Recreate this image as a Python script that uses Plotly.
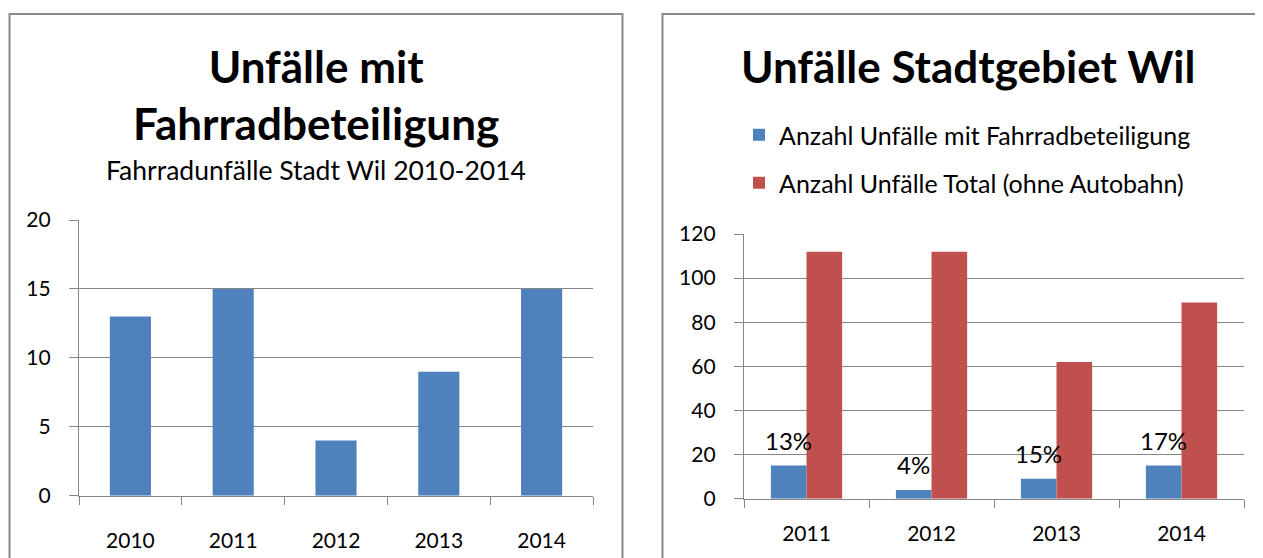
import plotly.graph_objects as go

# ---- data ----
years_left = ["2010", "2011", "2012", "2013", "2014"]
bike_left = [13, 15, 4, 9, 15]

years_right = ["2011", "2012", "2013", "2014"]
bike_right = [15, 4, 9, 15]
total_right = [112, 112, 62, 89]
share_labels = ["13%", "4%", "15%", "17%"]

left_ticks = [0, 5, 10, 15, 20]
right_ticks = [0, 20, 40, 60, 80, 100, 120]

series_names = ["Anzahl Unfälle mit Fahrradbeteiligung", "Anzahl Unfälle Total (ohne Autobahn)"]

# ---- style ----
W, H = 1263, 558
OX, OY = 8, 8  # default page margin around the plot div
BLUE = "#4F81BD"
RED = "#C0504D"
GRID = "#868686"
BORDER = "#8A8A8A"
FONT = "Lato"
BARGAP = 0.43


def px(x):
    return (x - OX) / W


def py(y):
    return 1 - (y - OY) / H


fig = go.Figure()

fig.add_trace(go.Bar(
    x=years_left, y=bike_left, marker=dict(color=BLUE, line=dict(width=0)),
    width=0.4, xaxis="x", yaxis="y", showlegend=False, name="Fahrradunfälle",
))
fig.add_trace(go.Bar(
    x=years_right, y=bike_right, marker=dict(color=BLUE, line=dict(width=0)),
    xaxis="x2", yaxis="y2", name=series_names[0], legendgroup="a",
))
fig.add_trace(go.Bar(
    x=years_right, y=total_right, marker=dict(color=RED, line=dict(width=0)),
    xaxis="x2", yaxis="y2", name=series_names[1], legendgroup="b",
))

axis_font = dict(family=FONT, size=21, color="#000000")

common_x = dict(
    showline=True, linecolor=GRID, linewidth=1.3, ticks="outside", ticklen=8,
    tickcolor=GRID, tickwidth=1.3, tickson="boundaries", showgrid=False,
    tickfont=axis_font, fixedrange=True, type="category", automargin=False,
    tickangle=0,
)
common_y = dict(
    showline=True, linecolor=GRID, linewidth=1.3, ticks="outside", ticklen=9,
    tickcolor=GRID, tickwidth=1.3, showgrid=True, gridcolor=GRID, gridwidth=1.3,
    zeroline=False, tickfont=axis_font, fixedrange=True, ticklabelstandoff=14,
    automargin=False,
)

annotations = [
    dict(text="<b>Unfälle mit<br>Fahrradbeteiligung</b>", x=px(316), y=py(94),
         xref="paper", yref="paper", xanchor="center", yanchor="middle",
         showarrow=False, font=dict(family=FONT, size=44, color="#000000")),
    dict(text="Fahrradunfälle Stadt Wil 2010-2014", x=px(316), y=py(170),
         xref="paper", yref="paper", xanchor="center", yanchor="middle",
         showarrow=False, font=dict(family=FONT, size=26.5, color="#000000")),
    dict(text="<b>Unfälle Stadtgebiet Wil</b>", x=px(968), y=py(66),
         xref="paper", yref="paper", xanchor="center", yanchor="middle",
         showarrow=False, font=dict(family=FONT, size=44, color="#000000")),
]
# percentage labels sit above the blue (first) bar of each group
blue_offset = -(1 - BARGAP) / 4
for i, (val, lab) in enumerate(zip(bike_right, share_labels)):
    annotations.append(dict(
        text=lab, x=i + blue_offset, y=val, xref="x2", yref="y2", yshift=25,
        xanchor="center", yanchor="middle", showarrow=False,
        font=dict(family=FONT, size=24, color="#000000"),
    ))

shapes = [
    dict(type="rect", xref="paper", yref="paper", x0=px(9.5), x1=px(622.5),
         y0=py(575), y1=py(14), line=dict(color=BORDER, width=2), layer="below"),
    dict(type="rect", xref="paper", yref="paper", x0=px(662.5), x1=px(1290),
         y0=py(575), y1=py(14), line=dict(color=BORDER, width=2), layer="below"),
]

fig.update_layout(
    width=W, height=H, margin=dict(l=0, r=0, t=0, b=0, autoexpand=False),
    paper_bgcolor="white", plot_bgcolor="white",
    barmode="group", bargap=BARGAP, bargroupgap=0,
    font=dict(family=FONT, color="#000000"),
    xaxis=dict(domain=[px(79), px(593)], anchor="y", range=[-0.5, 4.5],
               ticklabelstandoff=26, **common_x),
    yaxis=dict(domain=[py(495.7), py(220)], anchor="x", range=[0, 20],
               tickvals=left_ticks, **common_y),
    xaxis2=dict(domain=[px(744), px(1244)], anchor="y2", range=[-0.5, 3.5],
                ticklabelstandoff=16, **common_x),
    yaxis2=dict(domain=[py(498.7), py(234)], anchor="x2", range=[0, 120],
                tickvals=right_ticks, **common_y),
    legend=dict(x=px(739), y=py(112), xanchor="left", yanchor="top",
                font=dict(family=FONT, size=25, color="#000000"),
                tracegroupgap=12.5, traceorder="grouped", bgcolor="rgba(0,0,0,0)"),
    annotations=annotations,
    shapes=shapes,
    showlegend=True,
)

fig.write_html("out.html")
